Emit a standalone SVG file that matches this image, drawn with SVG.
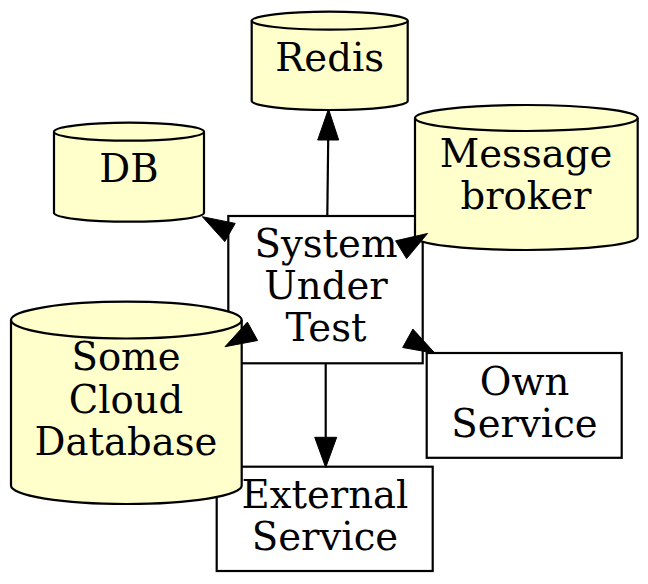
<svg xmlns="http://www.w3.org/2000/svg" width="648" height="584" viewBox="0 0 648 584">
<style>
.bg{fill:#ffffff}
.box{fill:#ffffff;stroke:#000000;stroke-width:2.2}
.cyl{fill:#ffffcc;stroke:#000000;stroke-width:2.2}
.cap{fill:none;stroke:#000000;stroke-width:2.2}
.lbl{font-family:"DejaVu Serif",serif;font-size:38.6px;fill:#000000;text-anchor:middle}
.edge{fill:none;stroke:#000000;stroke-width:2.2}
.head{fill:#000000;stroke:#000000;stroke-width:1}
</style>
<rect class="bg" x="0" y="0" width="648" height="584"/>
<g id="nodes">
<g id="sut">
<rect class="box" x="228.3" y="216" width="194.4" height="147.3"/>
<text class="lbl" x="326" y="257">System</text>
<text class="lbl" x="326" y="299">Under</text>
<text class="lbl" x="326" y="341">Test</text>
</g>
<g id="own">
<rect class="box" x="426.7" y="353" width="195" height="104.8"/>
<text class="lbl" x="524.5" y="395">Own</text>
<text class="lbl" x="524.5" y="437">Service</text>
</g>
<g id="external">
<rect class="box" x="216.7" y="466.7" width="216" height="104.3"/>
<text class="lbl" x="325" y="508">External</text>
<text class="lbl" x="325" y="550">Service</text>
</g>
<g id="db">
<path class="cyl" d="M54,131.7 A75,9 0 0 1 204,131.7 L204,212.7 A75,9 0 0 1 54,212.7 Z"/>
<path class="cap" d="M204,131.7 A75,9 0 0 1 54,131.7"/>
<text class="lbl" x="129" y="182">DB</text>
</g>
<g id="redis">
<path class="cyl" d="M251.7,20.65 A78,8.95 0 0 1 407.7,20.65 L407.7,101.05 A78,8.95 0 0 1 251.7,101.05 Z"/>
<path class="cap" d="M407.7,20.65 A78,8.95 0 0 1 251.7,20.65"/>
<text class="lbl" x="329.7" y="71">Redis</text>
</g>
<g id="broker">
<path class="cyl" d="M415,118 A111.35,13 0 0 1 637.7,118 L637.7,237 A111.35,13 0 0 1 415,237 Z"/>
<path class="cap" d="M637.7,118 A111.35,13 0 0 1 415,118"/>
<text class="lbl" x="526" y="166.7">Message</text>
<text class="lbl" x="526" y="208.5">broker</text>
</g>
<g id="cloud">
<path class="cyl" d="M11,320.1 A115.35,18.4 0 0 1 241.7,320.1 L241.7,485.6 A115.35,18.4 0 0 1 11,485.6 Z"/>
<path class="cap" d="M241.7,320.1 A115.35,18.4 0 0 1 11,320.1"/>
<text class="lbl" x="126" y="370">Some</text>
<text class="lbl" x="126" y="413">Cloud</text>
<text class="lbl" x="126" y="455">Database</text>
</g>
</g>
<g id="connectors">
<g id="e-redis">
<path class="edge" d="M327.3,216 L328.2,140"/>
<polygon class="head" points="328.5,109 317.7,140 338.7,140"/>
</g>
<g id="e-external">
<path class="edge" d="M325.7,363.3 L325.7,437.3"/>
<polygon class="head" points="325.7,467.5 314.7,437.3 336.7,437.3"/>
</g>
<g id="e-db">
<polygon class="head" points="202.3,216.7 235.2,223.4 224.8,241.6"/>
</g>
<g id="e-broker">
<polygon class="head" points="427.5,233.5 406.6,258.6 395.6,240.8"/>
</g>
<g id="e-cloud">
<polygon class="head" points="225,346.7 257.6,340.5 247.4,322.1"/>
</g>
<g id="e-own">
<polygon class="head" points="435,353.3 402.7,347.5 412.9,329.1"/>
</g>
</g>
</svg>
